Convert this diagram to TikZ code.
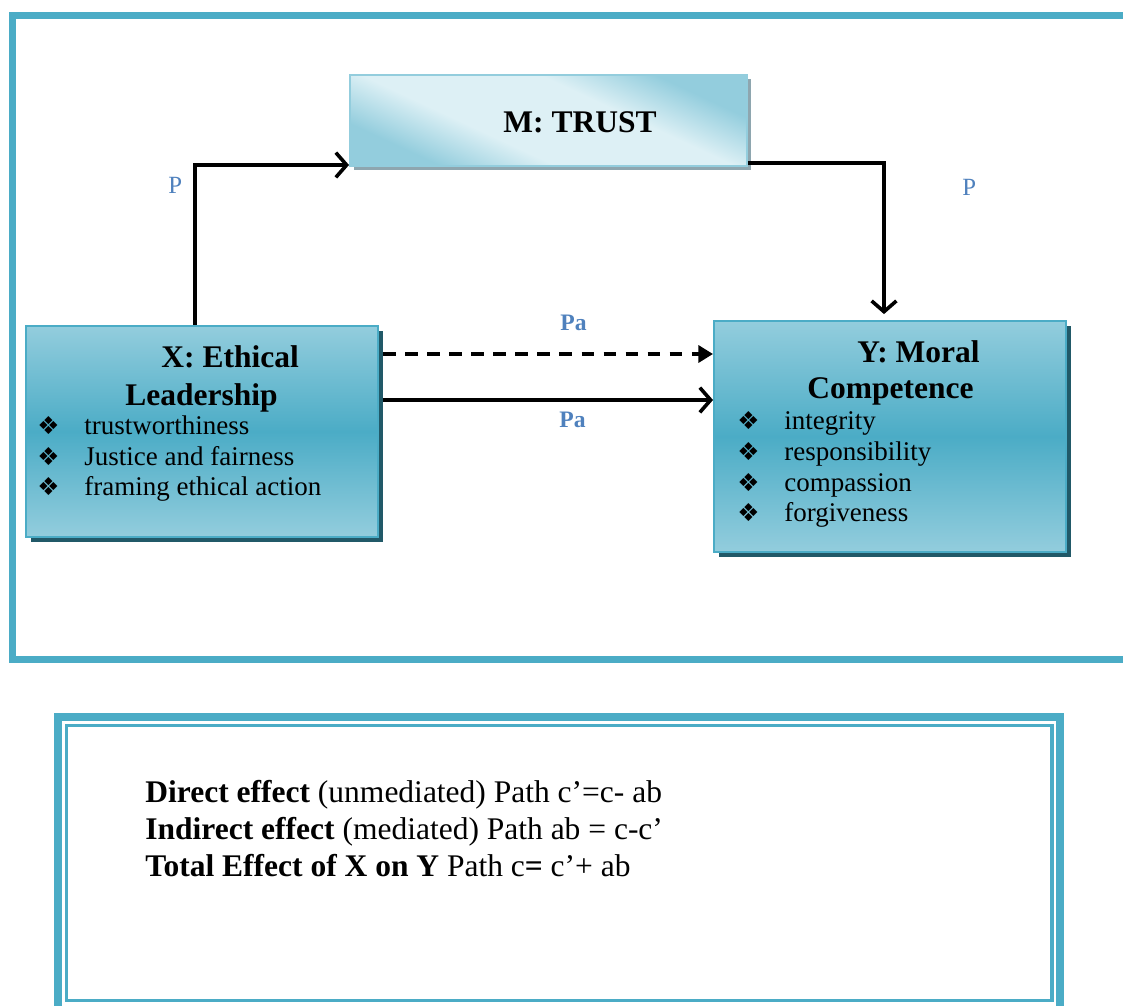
\documentclass[tikz,border=0pt]{standalone}
\usepackage{fontspec}
\setmainfont{Liberation Serif}
\newfontfamily\dejavu{DejaVu Sans}
\usetikzlibrary{arrows.meta,shadows}
\definecolor{acc}{HTML}{4BACC6}
\definecolor{accl}{HTML}{93CDDD}
\definecolor{accxl}{HTML}{DDF0F5}
\definecolor{shd}{HTML}{215968}
\definecolor{gsh}{HTML}{8EA6AF}
\definecolor{lbl}{HTML}{4F81BD}
\pgfdeclareverticalshading{mshade}{100bp}{color(0bp)=(accl); color(27bp)=(accl); color(40bp)=(accxl); color(60bp)=(accxl); color(73bp)=(accl); color(100bp)=(accl)}
\tikzset{
  xybox/.style={draw=acc, line width=0.9pt, inner sep=0pt,
    top color=accl, bottom color=accl, middle color=acc,
    general shadow={fill=shd, shadow xshift=2.2pt, shadow yshift=-2.4pt}},
  mbox/.style={draw=accl, line width=0.9pt, inner sep=0pt,
    shading=mshade, shading angle=-25,
    general shadow={fill=gsh, shadow xshift=1.6pt, shadow yshift=-1.8pt}},
  ttl/.style={anchor=base west, inner sep=0pt, font=\fontsize{14}{16}\selectfont\bfseries},
  itm/.style={anchor=base west, inner sep=0pt, font=\fontsize{12}{14}\selectfont},
  bul/.style={anchor=base west, inner sep=0pt, font=\dejavu\fontsize{11}{12}\selectfont},
  lab/.style={anchor=base west, inner sep=0pt, text=lbl, font=\fontsize{11}{12}\selectfont},
  labb/.style={lab, font=\fontsize{10.5}{12}\selectfont\bfseries},
  eff/.style={anchor=base west, inner sep=0pt, font=\fontsize{14}{16}\selectfont},
  arr/.style={line width=1.8pt, -{Straight Barb[length=4.8pt,width=11pt,line width=1.6pt]}},
  darr/.style={line width=1.8pt, dash pattern=on 5.6pt off 4.2pt, -{Triangle[length=6.5pt,width=7.5pt]}},
  frame/.style={draw=acc}
}
\begin{document}
\begin{tikzpicture}[x=0.4444pt,y=-0.4444pt]
\useasboundingbox (0,0) rectangle (1123,1005);
\begin{scope}
\clip (0,0) rectangle (1123,1005);
% outer frame
\draw[frame, line width=3.1pt] (12.5,15.5) rectangle (1160,659.5);
% bottom box
\draw[frame, line width=3.6pt] (58,717) rectangle (1060,1040);
\draw[frame, line width=1.4pt] (66.5,725.5) rectangle (1052,1000.5);
\end{scope}

% boxes
\node[mbox, minimum width=176.4pt, minimum height=40.4pt] (M) at (548.5,120.5) {};
\node[xybox, minimum width=156.4pt, minimum height=93.8pt] (X) at (202,431.5) {};
\node[xybox, minimum width=156.4pt, minimum height=102.7pt] (Y) at (890,436.5) {};

% texts
\node[ttl] (mt) at (503,132) {M: TRUST};

\node[ttl] (xt1) at (161,367) {X: Ethical};
\node[ttl] (xt2) at (125,405) {Leadership};
\node[bul] (xb1) at (37,434) {❖};
\node[bul] (xb2) at (37,465) {❖};
\node[bul] (xb3) at (37,495) {❖};
\node[itm] (xi1) at (84,434) {trustworthiness};
\node[itm] (xi2) at (84,465) {Justice and fairness};
\node[itm] (xi3) at (84,495) {framing ethical action};

\node[ttl] (yt1) at (857,362) {Y: Moral};
\node[ttl] (yt2) at (807,398) {Competence};
\node[bul] (yb1) at (737,429) {❖};
\node[bul] (yb2) at (737,460) {❖};
\node[bul] (yb3) at (737,491) {❖};
\node[bul] (yb4) at (737,521) {❖};
\node[itm] (yi1) at (784,429) {integrity};
\node[itm] (yi2) at (784,460) {responsibility};
\node[itm] (yi3) at (784,491) {compassion};
\node[itm] (yi4) at (784,521) {forgiveness};

% connectors
\coordinate (a1) at (195,165);
\coordinate (a2) at (884,163);
\coordinate (d1) at (550,354);
\coordinate (s1) at (550,400);
\draw[arr] (X.north -| a1) |- (M.west |- a1);
\draw[arr, shorten >=2.6pt] (M.east |- a2) -| (Y.north -| a2);
\draw[darr] ([xshift=1.8pt]X.east |- d1) -- (Y.west |- d1);
\draw[arr] ([xshift=1.8pt]X.east |- s1) -- (Y.west |- s1);

% labels
\node[lab] (p1) at (168,193) {P};
\node[lab] (p2) at (962,195) {P};
\node[labb] (pa1) at (560,330) {Pa};
\node[labb] (pa2) at (559,427) {Pa};

% effects
\node[eff] (e1) at (145,802) {\textbf{Direct effect} (unmediated) Path c’=c- ab};
\node[eff] (e2) at (145,839) {\textbf{Indirect effect} (mediated) Path ab = c-c’};
\node[eff] (e3) at (145,876) {\textbf{Total Effect of X on Y} Path c\textbf{=} c’+ ab};
\end{tikzpicture}
\end{document}
